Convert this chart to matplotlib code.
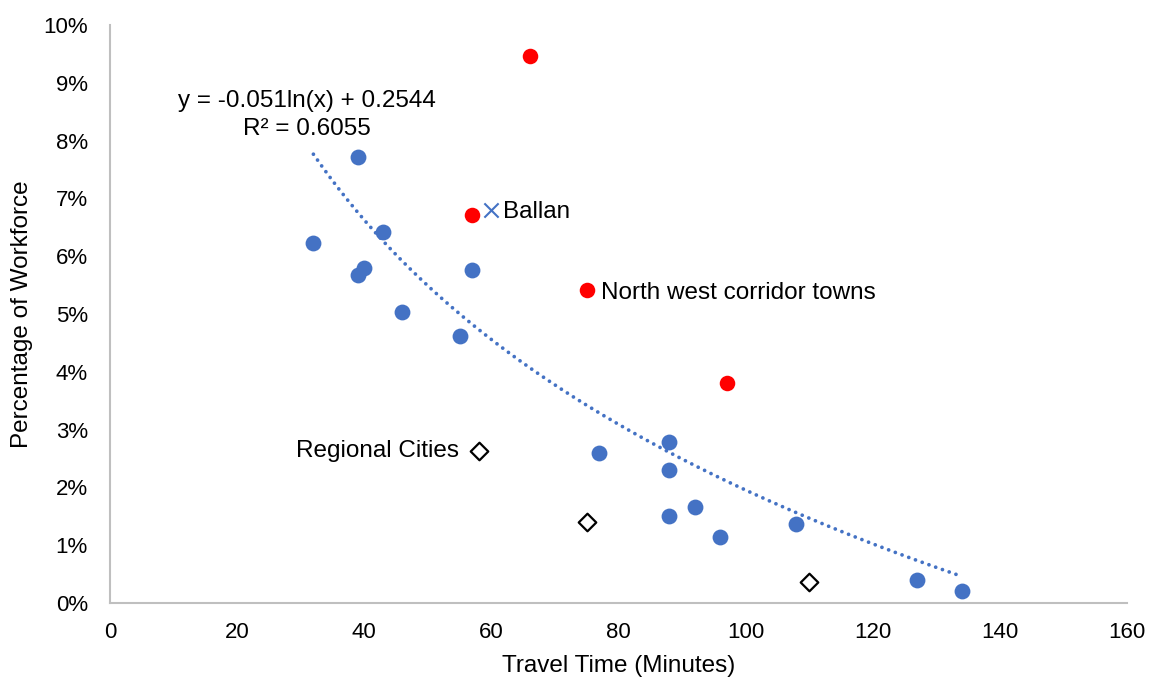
import numpy as np
import matplotlib
matplotlib.use("Agg")
import matplotlib.pyplot as plt
from matplotlib.ticker import FuncFormatter, MultipleLocator

plt.rcParams['font.family'] = ['Liberation Sans', 'DejaVu Sans']

# Towns (travel time in minutes, share of workforce in %)
towns_time = [39, 32, 43, 40, 39, 57, 46, 55, 77, 88, 88, 88, 92, 96, 108, 127, 134]
towns_share = [7.72, 6.23, 6.42, 5.80, 5.67, 5.76, 5.03, 4.62, 2.60, 2.79, 2.30, 1.51, 1.66, 1.14, 1.37, 0.40, 0.21]

nw_time = [66, 57, 75, 97]
nw_share = [9.46, 6.71, 5.42, 3.81]

ballan_time = [60]
ballan_share = [6.80]

regional_time = [58, 75, 110]
regional_share = [2.63, 1.40, 0.36]

# Logarithmic trendline: y = a ln(x) + b (as a fraction)
trend_a = -0.051
trend_b = 0.2544
trend_r2 = 0.6055

blue = '#4472C4'
label_size = 17.5
tick_size = 16

fig = plt.figure(figsize=(11.53, 6.8), dpi=100)
ax = fig.add_axes([110 / 1153, 77 / 680, (1127 - 110) / 1153, (603 - 25) / 680])

xs = np.linspace(min(towns_time), max(towns_time), 300)
ax.plot(xs, (trend_a * np.log(xs) + trend_b) * 100, linestyle=(0, (0.01, 1.9)),
        color=blue, linewidth=2.7, dash_capstyle='round', zorder=2)

ax.scatter(towns_time, towns_share, s=130, color=blue, zorder=3, linewidths=0)
ax.scatter(nw_time, nw_share, s=125, color='#FF0000', zorder=3, linewidths=0)
ax.scatter(ballan_time, ballan_share, s=105, marker='x', color=blue, linewidths=1.5, zorder=3)
ax.scatter(regional_time, regional_share, s=80, marker='D', facecolor='white',
           edgecolor='black', linewidths=1.6, zorder=3)

ax.text(ballan_time[0] + 1.9, ballan_share[0] - 0.03, 'Ballan', fontsize=label_size,
        va='center', ha='left')
ax.text(nw_time[2] + 2.2, nw_share[2] - 0.05, 'North west corridor towns', fontsize=label_size,
        va='center', ha='left')
ax.text(regional_time[0] - 3.1, regional_share[0], 'Regional Cities', fontsize=label_size,
        va='center', ha='right')
ax.text(31, 8.44, f'y = {trend_a}ln(x) + {trend_b}\nR² = {trend_r2}', fontsize=label_size,
        ha='center', va='center', linespacing=1.32)

ax.set_xlim(0, 160)
ax.set_ylim(0, 10)
ax.xaxis.set_major_locator(MultipleLocator(20))
ax.yaxis.set_major_locator(MultipleLocator(1))
ax.yaxis.set_major_formatter(FuncFormatter(lambda v, p: f'{v:.0f}%'))

for side in ('top', 'right'):
    ax.spines[side].set_visible(False)
for side in ('left', 'bottom'):
    ax.spines[side].set_color('#BFBFBF')
    ax.spines[side].set_linewidth(1.5)

ax.tick_params(axis='both', length=0, labelsize=tick_size, colors='black')
ax.tick_params(axis='x', pad=14)
ax.tick_params(axis='y', pad=16)

ax.set_xlabel('Travel Time (Minutes)', fontsize=label_size, labelpad=8)
ax.set_ylabel('Percentage of Workforce', fontsize=label_size, labelpad=7.5)

fig.savefig('out.png', dpi=100)
